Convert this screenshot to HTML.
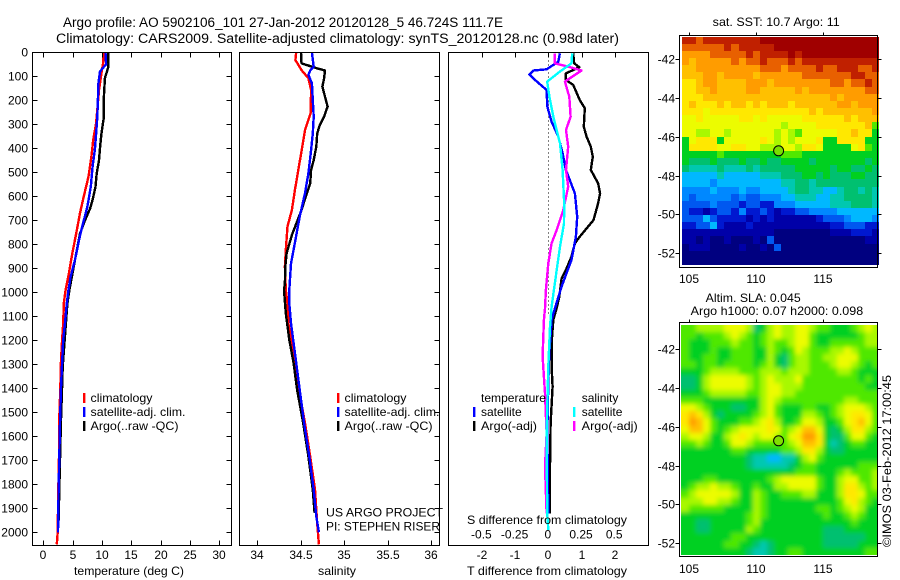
<!DOCTYPE html>
<html lang="en">
<head>
<meta charset="utf-8">
<title>Argo profile 5902106_101</title>
<style>
html,body{margin:0;padding:0;background:#fff;}
svg{display:block;}
text{font-family:"Liberation Sans",sans-serif;font-size:12px;fill:#000;}
.t13{font-size:13.5px;}
</style>
</head>
<body>
<svg id="chart" width="900" height="580" viewBox="0 0 900 580" xmlns="http://www.w3.org/2000/svg">
<defs>
<filter id="sla-soften" filterUnits="userSpaceOnUse" x="660" y="305" width="240" height="270"><feGaussianBlur stdDeviation="2.4"/></filter>
<clipPath id="sla-clip"><rect x="681" y="325" width="197" height="230"/></clipPath>
</defs>
<rect x="0" y="0" width="900" height="580" fill="#fff"/>
<text class="t13" x="63" y="27" textLength="440" lengthAdjust="spacingAndGlyphs">Argo profile: AO 5902106_101 27-Jan-2012 20120128_5 46.724S 111.7E</text>
<text class="t13" x="56" y="43" textLength="563" lengthAdjust="spacingAndGlyphs">Climatology: CARS2009. Satellite-adjusted climatology: synTS_20120128.nc (0.98d later)</text>

<g id="p1"></g>
<g id="p2"></g>
<g id="p3"></g>
<g id="m1"></g>
<g id="m2"></g>

<g>
<rect x="83" y="393" width="2.4" height="10" fill="#f00"/>
<text x="90.5" y="402" textLength="62" lengthAdjust="spacingAndGlyphs">climatology</text>
<rect x="83" y="407" width="2.4" height="10" fill="#00f"/>
<text x="90.5" y="416" textLength="95" lengthAdjust="spacingAndGlyphs">satellite-adj. clim.</text>
<rect x="83" y="421" width="2.4" height="10" fill="#000"/>
<text x="90.5" y="430" textLength="88" lengthAdjust="spacingAndGlyphs">Argo(..raw -QC)</text>
</g>
<g>
<rect x="337" y="393" width="2.4" height="10" fill="#f00"/>
<text x="344.5" y="402" textLength="62" lengthAdjust="spacingAndGlyphs">climatology</text>
<rect x="337" y="407" width="2.4" height="10" fill="#00f"/>
<text x="344.5" y="416" textLength="95" lengthAdjust="spacingAndGlyphs">satellite-adj. clim.</text>
<rect x="337" y="421" width="2.4" height="10" fill="#000"/>
<text x="344.5" y="430" textLength="88" lengthAdjust="spacingAndGlyphs">Argo(..raw -QC)</text>
</g>
<text x="326" y="516.5" textLength="117" lengthAdjust="spacingAndGlyphs">US ARGO PROJECT</text>
<text x="326" y="530.5" textLength="114" lengthAdjust="spacingAndGlyphs">PI: STEPHEN RISER</text>

<g>
<text x="481" y="402" textLength="65" lengthAdjust="spacingAndGlyphs">temperature</text>
<rect x="473" y="407" width="2.4" height="10" fill="#00f"/>
<text x="481" y="416">satellite</text>
<rect x="473" y="421" width="2.4" height="10" fill="#000"/>
<text x="481" y="430" textLength="56" lengthAdjust="spacingAndGlyphs">Argo(-adj)</text>
<text x="581.7" y="402">salinity</text>
<rect x="573" y="407" width="2.4" height="10" fill="#0ff"/>
<text x="581.7" y="416">satellite</text>
<rect x="573" y="421" width="2.4" height="10" fill="#f0f"/>
<text x="581.7" y="430" textLength="56" lengthAdjust="spacingAndGlyphs">Argo(-adj)</text>
</g>

<text x="74" y="575" textLength="110" lengthAdjust="spacingAndGlyphs">temperature (deg C)</text>
<text x="318" y="575" textLength="38" lengthAdjust="spacingAndGlyphs">salinity</text>
<text x="467" y="575" textLength="160" lengthAdjust="spacingAndGlyphs">T difference from climatology</text>
<text x="467" y="524" textLength="160" lengthAdjust="spacingAndGlyphs">S difference from climatology</text>

<text x="712.7" y="26" textLength="127" lengthAdjust="spacingAndGlyphs">sat. SST: 10.7  Argo: 11</text>
<text x="705.7" y="302" textLength="95" lengthAdjust="spacingAndGlyphs">Altim. SLA: 0.045</text>
<text x="690.7" y="315" textLength="172.5" lengthAdjust="spacingAndGlyphs">Argo h1000: 0.07 h2000: 0.098</text>
<text transform="translate(891,547) rotate(-90)" textLength="172" lengthAdjust="spacingAndGlyphs">©IMOS 03-Feb-2012 17:00:45</text>
</svg>

<script>
// ---------- profile data ----------
const tempClimDepth = [0,45,88,157,226,296,365,435,518,600,670,755,838,935,990,1046,1129,1198,1295,1406,1545,1684,1823,2000,2050];
const tempClimValues = [10.3,10.2,9.9,9.5,9.26,9.0,8.5,8.2,7.7,6.9,6.25,5.6,4.95,4.26,3.8,3.5,3.4,3.2,3.0,2.9,2.7,2.67,2.56,2.45,2.3];
const tempArgoDepth = [0,60,108,200,275,340,390,450,505,560,615,650,700,755,865,990,1046,1129,1310,1406,1545,1700,1950];
const tempArgoValues = [11.08,11.1,10.5,10.3,10.3,9.9,9.7,9.5,9.1,8.9,8.4,8.0,7.1,6.25,5.4,4.45,4.1,3.86,3.3,3.18,3.0,2.84,2.6];
const tempSatDepth = [0,50,80,130,200,270,340,405,475,560,645,710,780,865,935,990,1046,1129,1198,1295,1406,1545,1684,1823,2000];
const tempSatValues = [10.6,10.7,9.66,9.4,9.3,9.2,9.0,8.8,8.4,8.1,7.5,6.8,6.1,5.4,4.66,4.3,4.0,3.7,3.4,3.2,3.0,2.84,2.73,2.6,2.5];

const salClimDepth = [0,32,74,108,157,254,324,393,476,574,657,726,824,893,990,1046,1129,1268,1406,1545,1684,1823,1962,2050];
const salClimValues = [34.45,34.44,34.51,34.59,34.62,34.615,34.55,34.52,34.48,34.435,34.4,34.35,34.33,34.32,34.33,34.35,34.36,34.42,34.48,34.55,34.61,34.665,34.69,34.71];
const salArgoDepth = [0,46,60,67,76,108,143,185,226,268,303,338,393,449,490,546,601,657,705,761,838,893,962,990,1088,1198,1295,1406,1545,1684,1823,1920];
const salArgoValues = [34.505,34.51,34.63,34.69,34.78,34.77,34.75,34.78,34.81,34.77,34.72,34.69,34.68,34.65,34.62,34.61,34.56,34.51,34.46,34.4,34.34,34.325,34.32,34.31,34.33,34.37,34.42,34.46,34.53,34.59,34.64,34.66];
const salSatDepth = [0,60,76,94,129,200,268,338,407,504,587,685,782,880,990,1046,1129,1268,1406,1545,1684,1823,1934,2000];
const salSatValues = [34.63,34.65,34.61,34.59,34.63,34.64,34.65,34.64,34.62,34.59,34.55,34.49,34.44,34.39,34.37,34.37,34.39,34.44,34.49,34.54,34.6,34.65,34.68,34.71];

const dTempArgoDepth = [4,46,62,88,115,136,199,233,310,351,393,435,490,546,588,629,699,768,796,851,900,942,1018,1067,1115,1213,1310,1393,1546,1727,1921];
const dTempArgoValues = [0.75,0.78,0.93,0.53,0.53,0.75,0.95,1.1,1.07,1.15,1.28,1.34,1.28,1.5,1.56,1.5,1.36,0.95,0.8,0.7,0.55,0.4,0.33,0.25,0.15,0.1,0.1,0.13,0.07,0.05,0.05];
const dTempSatDepth = [4,39,71,76,92,115,157,226,289,351,421,490,588,685,768,865,976,1067,1115,1254,1379,1588,1921];
const dTempSatValues = [0.35,0.3,-0.05,-0.45,-0.57,-0.4,-0.05,-0.03,0.1,0.3,0.43,0.53,0.8,0.87,0.83,0.7,0.4,0.2,0.1,0.03,0,-0.03,0];
const dSalArgoDepth = [4,46,60,76,122,185,268,324,393,490,560,657,740,796,879,990,1067,1115,1268,1421,1588,1727,1921];
const dSalArgoValues = [0.05,0.05,0.15,0.25,0.125,0.158,0.168,0.133,0.15,0.133,0.15,0.113,0.063,0.025,0,-0.018,-0.025,-0.033,-0.043,-0.025,-0.013,-0.025,-0.013];
const dSalSatDepth = [4,46,80,122,185,268,379,490,629,713,810,907,1060,1143,1310,1588,1921,1990];
const dSalSatValues = [0.18,0.175,0.088,-0.008,0.008,0.038,0.088,0.108,0.12,0.118,0.088,0.063,0.025,0.013,0,-0.013,-0.008,0];

// ---------- tick labels ----------
const depthTicks = [0,100,200,300,400,500,600,700,800,900,1000,1100,1200,1300,1400,1500,1600,1700,1800,1900,2000];
const tempTicks = [0,5,10,15,20,25,30];
const salTicks = [34,34.5,35,35.5,36];
const dTempTicks = [-2,-1,0,1,2];
const dSalTicks = [-0.5,-0.25,0,0.25,0.5];
const lonTicks = [105,110,115];
const latTicks = [-42,-44,-46,-48,-50,-52];

// ---------- map data (colour levels; 0 = coldest/lowest) ----------
const argoLon = 111.7;
const argoLat = -46.724;
const sstGrid = [
[16,16,15,16,16,16,16,16,16,16,16,17,17,17,17,17,17,17,17,17,17,17,17,17,17,17,17,17],
[15,15,15,15,15,15,16,15,16,16,16,16,16,17,17,17,17,17,17,17,17,17,17,17,17,17,17,17],
[14,14,14,14,15,15,15,15,15,16,15,16,16,16,16,17,16,17,17,17,17,17,17,17,17,17,17,17],
[14,13,14,14,14,14,14,15,14,15,15,16,15,15,15,16,15,16,16,16,16,16,16,16,16,16,16,16],
[13,13,14,14,14,14,14,14,14,14,14,15,15,15,14,15,15,15,15,16,15,15,16,16,16,15,15,16],
[13,13,13,14,14,13,14,14,14,14,13,14,14,14,14,14,14,15,15,15,15,15,15,15,16,16,15,15],
[12,12,13,14,14,13,13,13,13,14,14,14,13,14,14,14,14,14,14,14,14,15,15,14,15,15,16,15],
[12,12,13,13,14,13,13,13,13,14,14,13,13,13,13,13,14,13,14,14,14,14,14,14,14,14,15,15],
[12,12,12,13,13,13,13,13,13,13,13,13,13,13,13,13,13,13,13,13,13,14,13,14,14,14,14,14],
[12,13,12,12,12,13,12,13,13,12,13,12,13,13,13,12,13,13,13,13,13,13,14,14,13,14,14,14],
[12,12,12,11,12,12,12,12,12,12,12,12,12,12,12,12,12,12,13,12,13,13,13,13,13,13,13,14],
[11,11,12,11,11,11,11,11,12,12,11,12,11,11,11,11,11,12,12,12,12,12,12,13,12,13,13,13],
[11,11,11,11,11,11,11,11,11,11,11,11,11,11,10,11,11,11,11,12,12,12,12,12,12,12,13,9],
[11,11,10,10,11,11,10,11,11,11,11,11,11,10,11,10,9,11,11,11,11,11,12,12,13,12,12,8],
[8,11,12,12,12,8,11,11,11,11,11,12,11,10,11,10,11,11,11,12,8,8,12,12,12,12,8,8],
[8,12,12,12,12,11,11,12,12,11,11,10,10,10,11,11,10,12,12,11,8,8,8,8,11,12,9,8],
[8,8,8,8,8,9,8,8,8,8,8,8,8,8,9,9,9,8,8,8,8,8,8,8,8,8,8,8],
[8,7,7,7,8,7,7,7,8,7,7,8,7,7,8,8,8,8,7,8,8,8,8,8,8,8,7,8],
[7,6,6,6,6,7,6,6,6,7,6,7,7,7,7,7,8,8,8,8,8,7,8,8,7,7,8,7],
[5,5,5,5,5,6,5,5,5,5,5,6,6,6,7,7,7,8,8,7,8,7,7,7,8,8,7,7],
[5,5,5,5,4,5,5,5,5,5,5,5,5,5,6,6,7,7,6,7,7,7,7,7,7,7,7,7],
[4,4,4,4,5,4,4,4,5,4,4,5,5,5,5,6,7,7,6,6,5,5,6,7,7,6,7,6],
[4,3,4,4,4,4,4,3,4,3,3,4,4,4,5,5,6,6,6,5,5,6,6,7,7,7,7,6],
[3,3,3,3,4,3,3,3,2,3,3,2,2,4,4,4,5,5,5,5,5,6,6,6,7,7,7,6],
[3,2,2,1,2,3,3,2,4,2,2,3,2,1,2,2,3,3,4,4,4,4,5,5,5,5,5,5],
[3,3,3,5,3,2,2,2,2,1,2,1,2,1,1,1,1,1,1,2,3,3,3,4,5,5,5,4],
[2,2,3,3,5,2,1,1,1,2,1,1,1,1,1,1,1,1,1,1,1,2,2,3,3,3,2,2],
[1,1,1,1,1,1,1,1,1,1,1,1,1,0,0,0,0,0,0,0,0,1,1,1,2,2,2,1],
[1,1,0,1,0,0,1,0,0,0,1,0,3,0,0,0,0,0,0,0,0,0,0,0,0,0,1,1],
[0,1,1,1,0,0,0,0,1,0,0,1,0,3,0,0,0,0,0,0,0,0,0,0,0,0,0,0],
[0,0,0,0,0,0,0,0,0,0,0,0,0,0,0,0,0,0,0,0,0,0,0,0,0,0,0,0],
[0,0,0,0,0,0,0,0,0,0,0,0,0,0,0,0,0,0,0,0,0,0,0,0,0,0,0,0]
];
const slaGrid = [
[9,9,10,10,10,10,11,11,11,10,7,8,10,11,10,10,11,11,10,9,9,8,8,8,9,10,11,10],
[9,9,8,9,9,9,10,11,10,9,8,9,10,11,10,10,11,11,9,8,8,8,8,8,8,9,10,10],
[9,8,8,8,9,9,9,10,9,9,8,9,10,9,9,10,11,11,9,8,8,9,9,9,9,9,10,10],
[9,8,8,8,9,8,8,9,9,9,8,8,10,9,8,9,11,10,9,9,9,10,10,11,10,9,9,9],
[9,8,8,9,9,8,8,9,9,9,8,8,10,8,7,9,10,10,9,9,10,10,11,11,11,9,9,9],
[9,9,8,9,9,8,9,9,9,9,8,9,10,8,7,9,10,10,9,9,9,10,11,11,10,9,8,9],
[8,8,8,9,10,10,10,10,9,9,9,10,10,10,9,10,10,10,9,9,9,9,10,10,9,8,8,8],
[7,7,8,10,11,11,11,11,11,10,9,10,11,10,10,10,11,9,9,9,9,9,9,9,9,8,9,8],
[7,7,8,10,11,11,11,11,11,10,9,10,11,11,10,10,10,9,9,9,9,9,9,9,9,9,8,8],
[8,8,8,9,10,10,10,10,10,9,9,10,11,11,10,10,9,9,9,9,9,9,9,9,9,9,9,9],
[9,9,9,8,8,8,8,8,8,8,8,10,11,10,9,9,9,9,9,9,9,9,9,10,10,9,9,9],
[11,11,10,9,8,8,8,7,7,8,8,10,11,9,8,8,8,9,9,8,8,9,10,11,11,11,10,9],
[12,13,12,10,8,7,8,8,8,8,9,10,11,9,8,8,8,10,10,9,8,9,10,11,12,12,11,9],
[12,14,13,11,9,8,8,8,9,9,10,11,12,10,8,8,9,11,11,10,8,8,9,11,12,13,11,9],
[11,13,13,11,9,8,9,10,11,11,11,11,12,11,9,10,11,13,13,11,8,7,8,10,12,12,10,9],
[10,11,11,10,8,8,10,11,12,11,10,11,11,10,9,11,12,14,14,12,8,7,7,9,11,11,9,8],
[9,9,10,9,8,8,9,11,11,10,9,9,9,9,9,10,11,13,13,12,8,6,7,8,9,9,8,8],
[8,8,8,8,8,8,8,9,9,8,8,8,8,8,9,9,10,12,12,10,8,7,7,8,8,8,8,8],
[8,8,8,8,8,8,8,8,8,7,6,6,5,5,6,6,8,10,11,9,8,8,8,8,8,8,8,8],
[8,8,8,8,8,8,8,8,8,7,6,6,6,6,6,7,8,9,9,8,8,8,8,8,8,9,9,9],
[8,8,8,8,8,8,8,8,8,8,8,8,8,8,8,8,9,9,9,8,8,8,9,10,9,9,9,10],
[8,8,8,9,9,8,8,8,8,8,8,8,9,10,11,11,11,11,11,9,8,8,10,11,11,9,9,10],
[8,9,10,10,11,10,10,9,8,8,9,8,8,10,10,11,11,11,11,9,8,8,10,12,12,10,9,10],
[9,10,11,11,11,11,11,10,8,8,10,9,8,8,9,9,9,10,10,8,8,8,10,12,12,11,9,9],
[10,10,10,11,11,10,10,9,8,8,10,9,8,8,8,8,8,8,8,8,8,8,9,11,12,10,9,8],
[10,9,9,9,9,9,8,8,8,8,10,9,8,8,8,8,8,8,8,9,9,8,9,10,11,10,8,8],
[8,8,8,8,8,8,8,8,8,9,10,9,8,8,8,8,8,8,8,8,9,8,8,9,10,9,8,8],
[8,8,7,7,8,8,8,8,8,9,10,8,8,8,8,8,8,8,8,8,8,8,8,8,9,8,8,8],
[8,8,7,7,8,8,8,8,8,10,9,8,8,8,8,8,8,8,8,8,7,7,7,8,8,8,8,8],
[8,8,8,8,8,8,8,9,9,8,8,8,8,8,8,8,8,8,8,8,7,7,7,7,7,7,8,8],
[8,8,8,8,8,8,9,9,8,8,7,6,7,8,8,8,8,8,8,8,7,7,7,7,7,8,8,8],
[8,8,8,8,8,8,8,8,8,7,6,6,7,8,8,9,9,8,8,8,8,8,8,8,8,8,9,9]
];
const levelColors = ['#000080','#0000a8','#0018d0','#0058f0','#0088ff','#00b8ff','#00c8b0','#00c070','#00d020','#50e800','#a8f800','#ecfc00','#ffe800','#ffc000','#ff9c00','#e86000','#c02000','#a00000'];

// ---------- axis functions ----------
const svgNS = 'http://www.w3.org/2000/svg';
const yDepth = d => 52.3 + d * 0.24;
const xTemp = t => 43.3 + t * 5.867;
const xSal = s => 257 + (s - 34) * 87.2;
const xDT = v => 548.3 + v * 33.2;
const xDS = v => 548.3 + v * 132.8;
const xLon = lon => 689.3 + (lon - 105) * 13.33;

function make(parent, tag, attrs, name) {
  const el = document.createElementNS(svgNS, tag);
  for (const k in attrs) el.setAttribute(k, attrs[k]);
  
  
  parent.appendChild(el);
  return el;
}
function label(parent, x, y, str, anchor, name) {
  const el = make(parent, 'text', {x: x, y: y, 'text-anchor': anchor}, name);
  el.textContent = str;
  return el;
}
function line(parent, x1, y1, x2, y2, name) {
  return make(parent, 'line', {x1: x1, y1: y1, x2: x2, y2: y2, stroke: '#000', 'stroke-width': 1, 'shape-rendering': 'crispEdges'}, name);
}
function frame(parent, x, y, w, h, name) {
  return make(parent, 'rect', {x: x, y: y, width: w, height: h, fill: 'none', stroke: '#000', 'stroke-width': 1, 'shape-rendering': 'crispEdges'}, name);
}
function series(parent, depths, values, xFn, color, name) {
  const pts = depths.map((d, i) => xFn(values[i]).toFixed(1) + ',' + yDepth(d).toFixed(1)).join(' ');
  return make(parent, 'polyline', {points: pts, fill: 'none', stroke: color, 'stroke-width': 2.4, 'stroke-linejoin': 'round', 'shape-rendering': 'crispEdges'}, name);
}

const P = {top: 52.5, bottom: 545.5};

// ---------- panel 1: temperature ----------
const p1 = document.getElementById('p1');
series(p1, tempClimDepth, tempClimValues, xTemp, '#f00', 'temperature-climatology-line');
series(p1, tempArgoDepth, tempArgoValues, xTemp, '#000', 'temperature-argo-line');
series(p1, tempSatDepth, tempSatValues, xTemp, '#00f', 'temperature-satellite-line');
frame(p1, 32.5, P.top, 199, P.bottom - P.top, 'temperature-plot-frame');
depthTicks.forEach(d => {
  const y = Math.round(yDepth(d)) + 0.5;
  line(p1, 32.5, y, 37.5, y, 'depth-tick-left');
  line(p1, 226.5, y, 231.5, y, 'depth-tick-right');
  label(p1, 28, y + 4, String(d), 'end', 'depth-tick-label');
});
tempTicks.forEach(t => {
  const x = Math.round(xTemp(t)) + 0.5;
  line(p1, x, P.top, x, P.top + 5, 'temperature-tick-top');
  line(p1, x, P.bottom - 5, x, P.bottom, 'temperature-tick-bottom');
  label(p1, x - 0.5, 559, String(t), 'middle', 'temperature-tick-label');
});

// ---------- panel 2: salinity ----------
const p2 = document.getElementById('p2');
series(p2, salClimDepth, salClimValues, xSal, '#f00', 'salinity-climatology-line');
series(p2, salArgoDepth, salArgoValues, xSal, '#000', 'salinity-argo-line');
series(p2, salSatDepth, salSatValues, xSal, '#00f', 'salinity-satellite-line');
frame(p2, 239.5, P.top, 200, P.bottom - P.top, 'salinity-plot-frame');
depthTicks.forEach(d => {
  const y = Math.round(yDepth(d)) + 0.5;
  line(p2, 434.5, y, 439.5, y, 'depth-tick-right');
});
salTicks.forEach(s => {
  const x = Math.round(xSal(s)) + 0.5;
  line(p2, x, P.bottom - 5, x, P.bottom, 'salinity-tick-bottom');
  label(p2, x - 0.5, 559, String(s), 'middle', 'salinity-tick-label');
});

// ---------- panel 3: differences ----------
const p3 = document.getElementById('p3');
make(p3, 'line', {x1: 548.5, y1: yDepth(0), x2: 548.5, y2: yDepth(1100), stroke: '#000', 'stroke-width': 1, 'stroke-dasharray': '1 3', 'shape-rendering': 'crispEdges'}, 'zero-difference-line');
series(p3, dTempArgoDepth, dTempArgoValues, xDT, '#000', 'difference-t-argo-line');
series(p3, dTempSatDepth, dTempSatValues, xDT, '#00f', 'difference-t-satellite-line');
series(p3, dSalArgoDepth, dSalArgoValues, xDS, '#f0f', 'difference-s-argo-line');
series(p3, dSalSatDepth, dSalSatValues, xDS, '#0ff', 'difference-s-satellite-line');
frame(p3, 448.5, P.top, 200, P.bottom - P.top, 'difference-plot-frame');
dTempTicks.forEach(v => {
  const x = Math.round(xDT(v)) + 0.5;
  line(p3, x, P.top, x, P.top + 5, 'difference-tick-top');
  label(p3, x - 0.5, 559, String(v), 'middle', 'difference-t-tick-label');
});
dSalTicks.forEach(v => {
  label(p3, xDS(v) - 0.5, 538.7, String(v), 'middle', 'difference-s-tick-label');
});

// ---------- maps ----------
function drawMap(id, grid, cfg) {
  const g = document.getElementById(id);
  const rows = grid.length;
  const cols = grid[0].length;
  const yLat = lat => cfg.y42 + (-lat - 42) * 19.37;
  const lonStep = (119.25 - 104.47) / cols;
  const latStep = (cfg.latTop - cfg.latBottom) / rows;
  let cellParent = g;
  const pad = cfg.soft ? 10 : 0;
  if (cfg.soft) {
    const clipG = make(g, 'g', {'clip-path': 'url(#sla-clip)'}, cfg.name + '-image-clip');
    cellParent = make(clipG, 'g', {filter: 'url(#sla-soften)'}, cfg.name + '-image');
  }
  grid.forEach((row, r) => {
    row.forEach((v, c) => {
      const x0 = Math.round(xLon(104.47 + c * lonStep)) - (c === 0 ? pad : 0);
      const x1 = Math.round(xLon(104.47 + (c + 1) * lonStep)) + (c === cols - 1 ? pad : 0);
      const y0 = Math.round(yLat(cfg.latTop - r * latStep)) - (r === 0 ? pad : 0);
      const y1 = Math.round(yLat(cfg.latTop - (r + 1) * latStep)) + (r === rows - 1 ? pad : 0);
      make(cellParent, 'rect', {x: x0, y: y0, width: x1 - x0, height: y1 - y0, fill: levelColors[v], 'shape-rendering': 'crispEdges'}, cfg.name + '-cell');
    });
  });
  frame(g, 679.5, cfg.frameTop, 198, cfg.frameBottom - cfg.frameTop, cfg.name + '-frame');
  lonTicks.forEach(lon => {
    const x = Math.round(xLon(lon)) + 0.5;
    line(g, x, cfg.frameTop - 3, x, cfg.frameTop, cfg.name + '-lon-tick');
    label(g, x - 0.5, cfg.lonLabelY, String(lon), 'middle', cfg.name + '-lon-label');
  });
  latTicks.forEach(lat => {
    const y = Math.round(yLat(lat)) + 0.5;
    line(g, 675.5, y, 679.5, y, cfg.name + '-lat-tick-left');
    line(g, 877.5, y, 881.5, y, cfg.name + '-lat-tick-right');
    label(g, 675, y + 4, String(lat), 'end', cfg.name + '-lat-label');
  });
  make(g, 'circle', {cx: xLon(argoLon), cy: yLat(argoLat), r: 5, fill: cfg.marker, stroke: '#000', 'stroke-width': 1}, cfg.name + '-argo-marker');
}
drawMap('m1', sstGrid, {name: 'sst-map', y42: 59.3, latTop: -40.83, latBottom: -52.62, frameTop: 35.5, frameBottom: 267.5, lonLabelY: 283, marker: '#78e000', soft: false});
drawMap('m2', slaGrid, {name: 'sla-map', y42: 349.3, latTop: -40.75, latBottom: -52.62, frameTop: 322.5, frameBottom: 556.5, lonLabelY: 573, marker: '#80e000', soft: true});
</script>
</body>
</html>
